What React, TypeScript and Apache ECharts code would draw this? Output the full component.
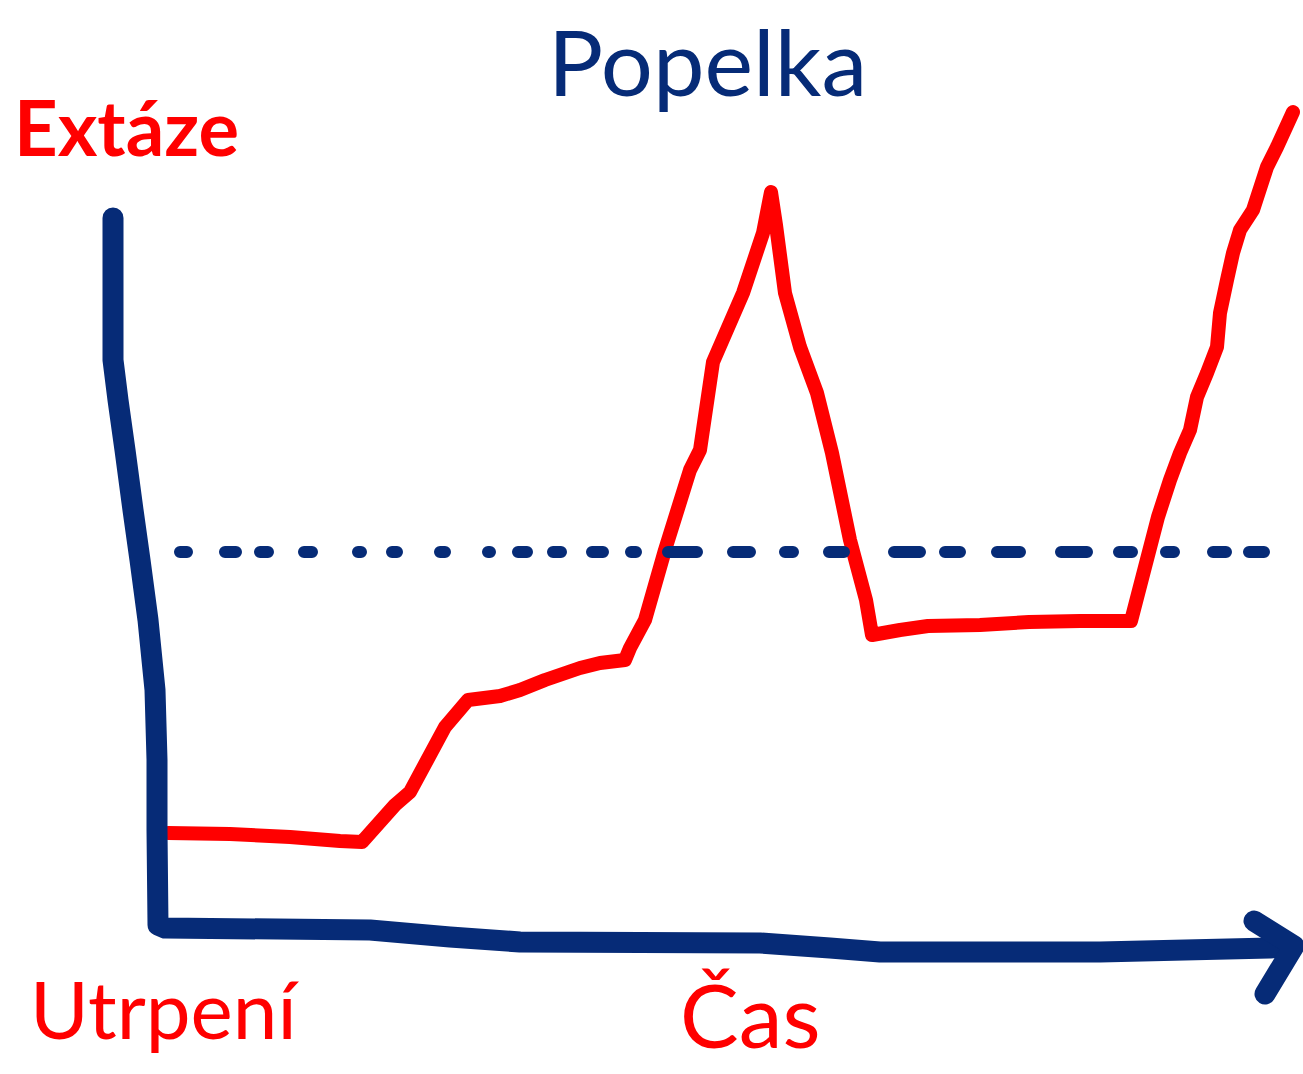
import React, { useEffect, useRef } from "react";
import * as echarts from "echarts";

// Time (x) vs. emotion (y, drawn downward = suffering) in page units
const storyCurve: [number, number][] = [
  [168, 833], [230, 834], [290, 837], [340, 841], [362, 842], [395, 805], [410, 792],
  [445, 727], [468, 700], [500, 696], [520, 690], [545, 680], [580, 668], [600, 663],
  [625, 660], [630, 648], [645, 620], [665, 550], [690, 470], [700, 450], [713, 362],
  [743, 293], [763, 233], [771, 192], [776, 225], [785, 293], [800, 347], [817, 393],
  [832, 453], [850, 540], [866, 600], [872, 635], [900, 630], [928, 626], [980, 625],
  [1029, 622], [1080, 621], [1131, 621], [1145, 567], [1158, 517], [1170, 480],
  [1180, 453], [1190, 430], [1197, 397], [1207, 373], [1217, 347], [1220, 313],
  [1227, 280], [1233, 253], [1240, 230], [1253, 210], [1267, 167], [1277, 147], [1293, 112],
];

const axisStroke: [number, number][] = [
  [113, 218], [113, 360], [118, 400], [125, 450], [133, 510], [140, 560], [148, 620],
  [155, 690], [157, 760], [157, 830], [158, 925], [165, 928], [370, 930], [450, 937],
  [520, 942], [760, 943], [830, 948], [880, 952], [1100, 952], [1270, 948], [1292, 946],
];

const arrowHead: [number, number][] = [[1254, 921], [1294, 946], [1265, 994]];

const neutralLevel = 552;
const neutralDashes: [number, number][] = [
  [174, 193], [219, 242], [254, 274], [298, 318], [352, 367], [386, 403], [434, 451],
  [482, 496], [512, 533], [547, 567], [586, 609], [625, 642], [662, 703], [727, 756],
  [779, 799], [823, 850], [888, 926], [939, 966], [991, 1026], [1055, 1093],
  [1113, 1138], [1160, 1180], [1207, 1232], [1243, 1270],
];

const titleText = "Popelka";
const topLabel = "Extáze";
const bottomLabel = "Utrpení";
const timeLabel = "Čas";

const BLUE = "#062b77";
const RED = "#ff0000";

export default function App() {
  const ref = useRef<HTMLDivElement>(null);
  useEffect(() => {
    if (!ref.current) return;
    const chart = echarts.init(ref.current, undefined, { renderer: "svg" });
    const dashData: any[] = [];
    const cap = 6;
    neutralDashes.forEach(([a, b]) => {
      const s = a + cap;
      const e = Math.max(b - cap, s + 1);
      dashData.push([s, neutralLevel], [e, neutralLevel], ["-", "-"]);
    });
    chart.setOption({
      animation: false,
      backgroundColor: "#ffffff",
      grid: { left: 0, right: 0, top: 0, bottom: 0 },
      xAxis: { type: "value", min: 0, max: 1303, show: false },
      yAxis: { type: "value", min: 0, max: 1074, inverse: true, show: false },
      series: [
        {
          type: "line",
          data: storyCurve,
          symbol: "none",
          z: 2,
          lineStyle: { color: RED, width: 14, cap: "round", join: "round" },
        },
        {
          type: "line",
          data: dashData,
          symbol: "none",
          connectNulls: false,
          z: 3,
          lineStyle: { color: BLUE, width: 12, cap: "round", join: "round" },
        },
        {
          type: "line",
          data: axisStroke,
          symbol: "none",
          z: 4,
          lineStyle: { color: BLUE, width: 21, cap: "round", join: "round" },
        },
        {
          type: "line",
          data: arrowHead,
          symbol: "none",
          z: 4,
          lineStyle: { color: BLUE, width: 21, cap: "round", join: "round" },
        },
      ],
      graphic: [
        {
          type: "text",
          left: 548,
          top: 14,
          style: { text: titleText, fill: BLUE, font: "normal 92px Lato" },
        },
        {
          type: "text",
          left: 14,
          top: 88,
          style: { text: topLabel, fill: RED, font: "bold 76px Lato" },
        },
        {
          type: "text",
          left: 30,
          top: 968,
          style: { text: bottomLabel, fill: RED, font: "normal 80px Lato" },
        },
        {
          type: "text",
          left: 680,
          top: 970,
          style: { text: timeLabel, fill: RED, font: "normal 88px Lato" },
        },
      ],
    });
    return () => chart.dispose();
  }, []);
  return (
    <div
      ref={ref}
      style={{ position: "absolute", left: 0, top: 0, width: 1303, height: 1074 }}
    />
  );
}
